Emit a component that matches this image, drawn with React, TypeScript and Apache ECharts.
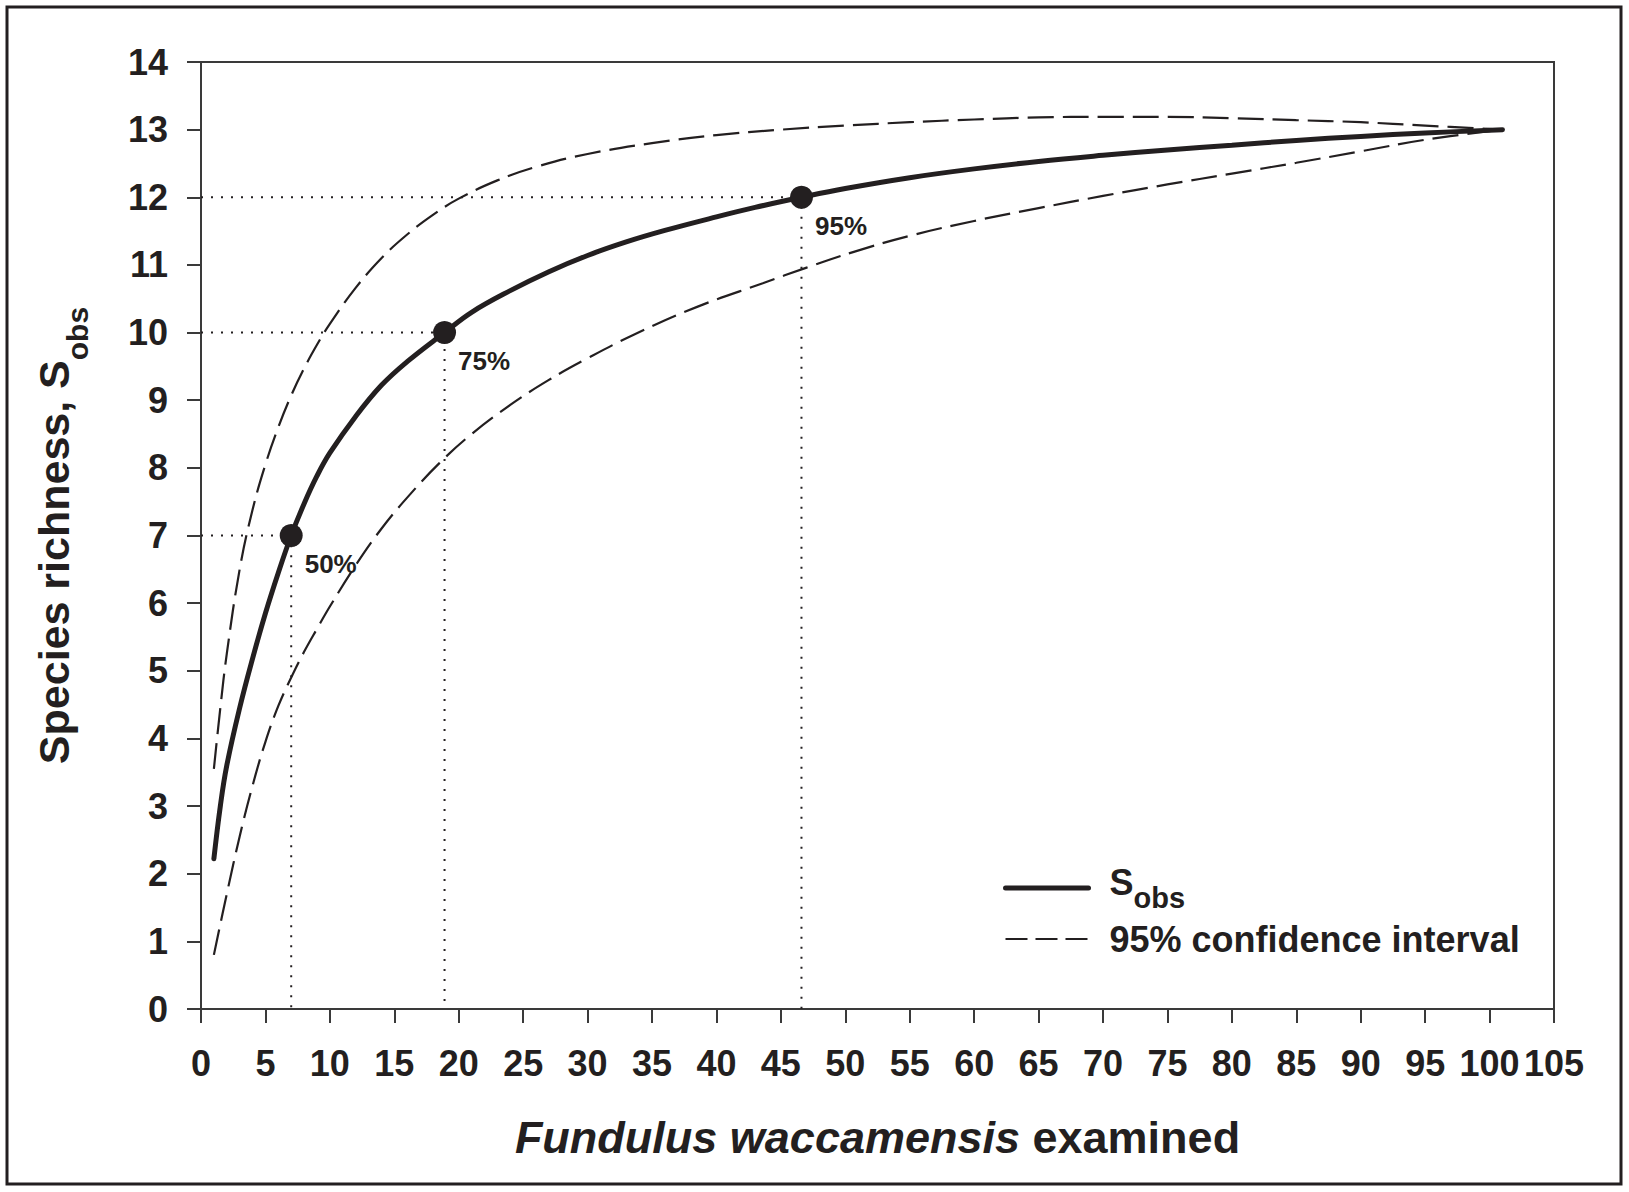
import React, { useEffect, useRef } from "react";
import * as echarts from "echarts";

// ---- data ----
const sobsCurve: number[][] = [
  [1, 2.22], [1.5, 3.0], [2, 3.6], [3, 4.45], [4, 5.18], [5, 5.85], [6, 6.45], [7, 7.0], [8, 7.47],
  [9, 7.88], [10, 8.22], [12, 8.76], [14, 9.22], [16, 9.57], [18.9, 10.0], [21, 10.3], [24, 10.62],
  [27, 10.9], [30, 11.14], [33, 11.34], [36, 11.51], [40, 11.71], [43, 11.85], [46.6, 12.0],
  [50, 12.13], [55, 12.29], [60, 12.42], [65, 12.53], [70, 12.62], [75, 12.7], [80, 12.77],
  [85, 12.84], [90, 12.9], [95, 12.95], [101, 13.0],
];
const upperCI: number[][] = [
  [1, 3.55], [1.5, 4.45], [2, 5.25], [3, 6.5], [4, 7.38], [5, 8.05], [6, 8.6], [7, 9.07], [8, 9.47],
  [9, 9.82], [10, 10.13], [12, 10.66], [14, 11.1], [16, 11.45], [18, 11.74], [20, 11.98], [23, 12.25],
  [26, 12.45], [30, 12.64], [35, 12.8], [40, 12.92], [45, 13.0], [50, 13.06], [55, 13.11],
  [60, 13.15], [65, 13.18], [70, 13.19], [75, 13.19], [80, 13.17], [85, 13.14], [90, 13.11],
  [95, 13.06], [101, 13.0],
];
const lowerCI: number[][] = [
  [1, 0.8], [2, 1.7], [3, 2.55], [4, 3.3], [5, 3.95], [6, 4.48], [7, 4.9], [8, 5.28], [9, 5.62],
  [10, 5.95], [12, 6.56], [14, 7.1], [16, 7.56], [18.5, 8.07], [21, 8.5], [24, 8.93], [27, 9.3],
  [30, 9.62], [33.5, 9.96], [38.5, 10.38], [43.6, 10.73], [47, 10.96], [50.6, 11.19], [55, 11.43],
  [60, 11.65], [65, 11.84], [70, 12.02], [75, 12.19], [80, 12.35], [85, 12.51], [90, 12.68],
  [95, 12.85], [101, 13.0],
];
const markerX = [7, 18.9, 46.6];
const markerY = [7, 10, 12];
const markerLabels = ["50%", "75%", "95%"];

const FONT = "'Liberation Sans', Arial, Helvetica, sans-serif";
const INK = "#231f20";
const AXIS = "#3a3a3a";

export default function App() {
  const ref = useRef<HTMLDivElement>(null);
  useEffect(() => {
    if (!ref.current) return;
    const chart = echarts.init(ref.current, undefined, { renderer: "svg" });

    const dropSeries = markerX.map((x, i) => ({
      type: "line",
      name: "drop" + i,
      data: [[0, markerY[i]], [x, markerY[i]], [x, 0]],
      symbol: "none",
      silent: true,
      z: 1,
      lineStyle: { color: INK, width: 2, type: [2, 8] },
    }));

    const ciStyle = { color: INK, width: 2.2, type: [26, 9] };
    const hidden = { opacity: 0, color: "rgba(0,0,0,0)", borderWidth: 0 };

    chart.setOption({
      animation: false,
      backgroundColor: "#ffffff",
      textStyle: { fontFamily: FONT },
      grid: {
        left: 201, top: 62, width: 1353, height: 947,
        show: true, borderColor: AXIS, borderWidth: 2, backgroundColor: "transparent",
      },
      xAxis: {
        type: "value", min: 0, max: 105, interval: 5,
        axisLine: { show: true, onZero: false, lineStyle: { color: AXIS, width: 2 } },
        axisTick: { show: true, inside: false, length: 14, lineStyle: { color: AXIS, width: 2 } },
        splitLine: { show: false },
        axisLabel: { margin: 36, fontSize: 36, fontWeight: "bold", color: INK, fontFamily: FONT },
        name: "{i|Fundulus waccamensis}{n| examined}",
        nameLocation: "middle",
        nameGap: 103,
        nameTextStyle: {
          rich: {
            i: { fontSize: 45, fontWeight: "bold", fontStyle: "italic", color: INK, fontFamily: FONT, lineHeight: 50 },
            n: { fontSize: 45, fontWeight: "bold", color: INK, fontFamily: FONT, lineHeight: 50 },
          },
        },
      },
      yAxis: {
        type: "value", min: 0, max: 14, interval: 1,
        axisLine: { show: true, onZero: false, lineStyle: { color: AXIS, width: 2 } },
        axisTick: { show: true, inside: false, length: 14, lineStyle: { color: AXIS, width: 2 } },
        splitLine: { show: false },
        axisLabel: { margin: 33, fontSize: 36, fontWeight: "bold", color: INK, fontFamily: FONT },
        name: "{a|Species richness, S}{b|obs}",
        nameLocation: "middle",
        nameRotate: 90,
        nameGap: 109,
        nameTextStyle: {
          rich: {
            a: { fontSize: 43, fontWeight: "bold", color: INK, fontFamily: FONT, lineHeight: 60, verticalAlign: "top" },
            b: { fontSize: 30, fontWeight: "bold", color: INK, fontFamily: FONT, lineHeight: 20, verticalAlign: "bottom" },
          },
        },
      },
      legend: {
        orient: "vertical",
        left: 1003,
        top: 864,
        itemWidth: 83,
        itemHeight: 14,
        itemGap: 9,
        padding: 0,
        selectedMode: false,
        data: [
          { name: "Sobs", itemStyle: hidden, lineStyle: { color: INK, width: 5, type: "solid" } },
          { name: "95% confidence interval", itemStyle: hidden, lineStyle: { color: INK, width: 2.2, type: [22, 8] } },
        ],
        formatter: (name: string) => (name === "Sobs" ? "{s|S}{sub|obs}" : "{t|" + name + "}"),
        textStyle: {
          padding: [0, 0, 0, 16],
          rich: {
            s: { fontSize: 36, fontWeight: "bold", color: INK, fontFamily: FONT, lineHeight: 48, verticalAlign: "top" },
            sub: { fontSize: 29, fontWeight: "bold", color: INK, fontFamily: FONT, lineHeight: 22, verticalAlign: "bottom" },
            t: { fontSize: 36, fontWeight: "bold", color: INK, fontFamily: FONT, lineHeight: 48 },
          },
        },
      },
      graphic: [
        {
          type: "rect",
          shape: { x: 7, y: 7, width: 1614, height: 1177 },
          style: { fill: "none", stroke: INK, lineWidth: 3 },
          silent: true,
        },
      ],
      series: [
        ...dropSeries,
        {
          type: "line", name: "95% confidence interval", data: upperCI, smooth: 0.4,
          symbol: "none", z: 3, lineStyle: ciStyle, itemStyle: { color: INK },
        },
        {
          type: "line", name: "95% confidence interval", data: lowerCI, smooth: 0.4,
          symbol: "none", z: 3, lineStyle: ciStyle, itemStyle: { color: INK },
        },
        {
          type: "line", name: "Sobs", data: sobsCurve, smooth: 0.4,
          symbol: "none", z: 4, lineStyle: { color: INK, width: 5, cap: "round" }, itemStyle: { color: INK },
        },
        {
          type: "scatter", name: "markers",
          data: markerX.map((x, i) => [x, markerY[i], markerLabels[i]]),
          symbol: "circle", symbolSize: 23, z: 5,
          itemStyle: { color: INK, opacity: 1 },
          label: {
            show: true,
            position: [25, 27],
            align: "left",
            verticalAlign: "top",
            formatter: (p: any) => p.data[2],
            fontSize: 26, fontWeight: "bold", color: INK, fontFamily: FONT, opacity: 1,
          },
        },
      ],
    });
    return () => chart.dispose();
  }, []);
  return (
    <div
      ref={ref}
      style={{ position: "absolute", left: 0, top: 0, width: 1629, height: 1192, background: "#fff" }}
    />
  );
}
